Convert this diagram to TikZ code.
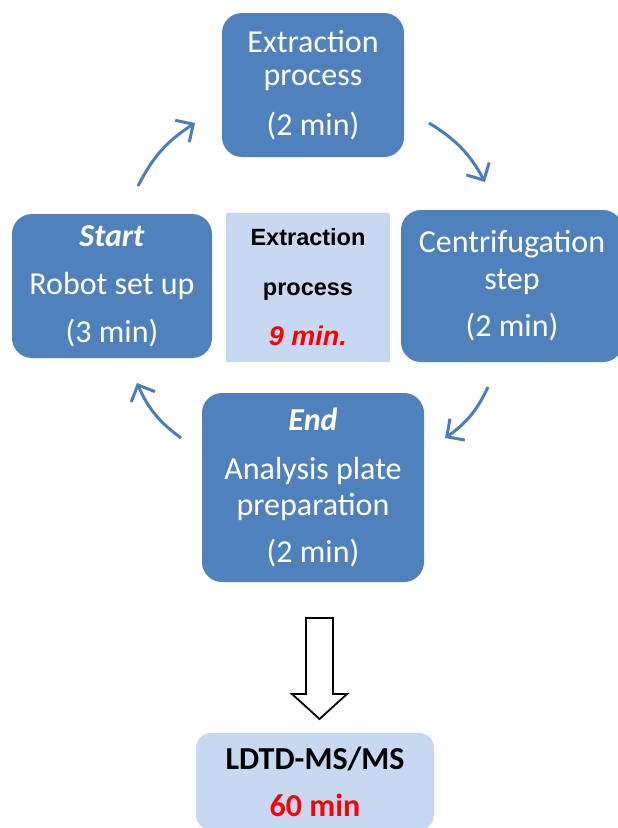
\documentclass[tikz,border=0pt]{standalone}
\usepackage{fontspec}
\setmainfont{Carlito}
\newfontfamily\arialf{Liberation Sans}
\usetikzlibrary{arrows.meta}
\definecolor{boxblue}{HTML}{4F81BD}
\definecolor{lightblue}{HTML}{C6D9F1}
\definecolor{arrblue}{HTML}{4A7EBB}
\begin{document}
\begin{tikzpicture}[x=1pt,y=-1pt,
  stepbox/.style={fill=boxblue, text=white, rounded corners=20pt, inner sep=0pt, align=center,
     font=\fontsize{32}{33}\selectfont},
  flow/.style={draw=arrblue, line width=3pt, -{Straight Barb[length=13pt,width=26pt,line width=3pt]}},
  sumbox/.style={fill=lightblue, inner sep=0pt, align=center}]
\clip (0,0) rectangle (618,828);
\useasboundingbox (0,0) rectangle (618,828);

\node[stepbox, minimum width=182pt, minimum height=144pt] (top) at (313,85)
  {Extraction\\process\\[17pt](2 min)};
\node[stepbox, minimum width=200pt, minimum height=144pt] (left) at (112,286)
  {\textbf{\textit{Start}}\\[15pt]Robot set up\\[15pt](3 min)};
\node[stepbox, minimum width=222pt, minimum height=152pt] (right) at (512,286)
  {Centrifugation\\[4pt]step\\[14pt](2 min)};
\node[stepbox, minimum width=222pt, minimum height=189pt] (bottom) at (313,487.5)
  {\textbf{\textit{End}}\\[16pt]Analysis plate\\[3pt]preparation\\[14pt](2 min)};

\node[sumbox, minimum width=164pt, minimum height=149pt,
  font=\arialf\bfseries\fontsize{23.5}{50}\selectfont] (center) at (308,287.5)
  {Extraction\\process\\\textcolor{red}{\itshape\fontsize{27}{50}\selectfont 9 min.}};

\node[sumbox, rounded corners=15pt, minimum width=238pt, minimum height=97pt,
  font=\bfseries\fontsize{32}{47}\selectfont] (result) at (315,781.5)
  {LDTD-MS/MS\\\textcolor{red}{60 min}};

% curved arrows
\coordinate (a1s) at (138,186); \coordinate (a1e) at (195,123);
\coordinate (a2s) at (429,123); \coordinate (a2e) at (485,182);
\coordinate (a3s) at (488,387); \coordinate (a3e) at (445,438);
\coordinate (a4s) at (181,438); \coordinate (a4e) at (137,383);
\draw[flow] (a1s) to[bend left=15] (a1e);
\draw[flow] (a2s) to[bend left=15] (a2e);
\draw[flow] (a3s) to[bend left=15] (a3e);
\draw[flow] (a4s) to[bend left=15] (a4e);

% block arrow
\draw[line width=1.8pt, fill=white, line join=miter]
  (306,618) -- (333,618) -- (333,694) -- (347,694) -- (319.5,719)
  -- (292,694) -- (306,694) -- cycle;
\end{tikzpicture}
\end{document}
